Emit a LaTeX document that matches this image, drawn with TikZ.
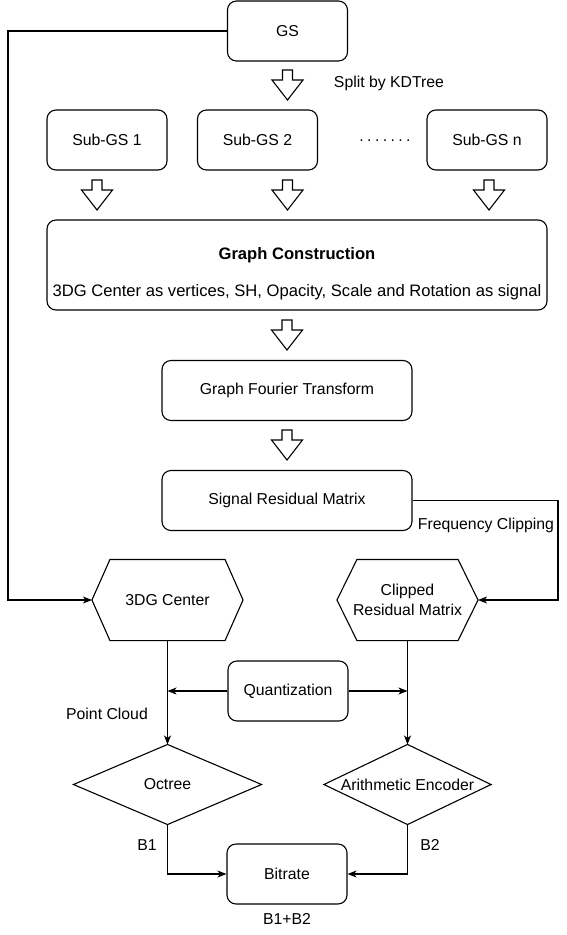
\documentclass[tikz,border=0pt]{standalone}
\usepackage{fontspec}
\setmainfont{Liberation Sans}
\usetikzlibrary{arrows.meta,calc}
\tikzset{
  box/.style={draw, rounded corners=9pt, minimum width=120pt, minimum height=60pt, inner sep=0pt},
  plain/.style={inner sep=0pt},
  gctext/.style={inner sep=0pt, font=\fontsize{16.6}{20}\selectfont},
  hexbox/.style={minimum height=80pt, inner sep=0pt},
  dia/.style={minimum height=79pt, inner sep=0pt},
  arr/.style={-{Stealth[length=9pt,width=7pt,inset=2.5pt]}},
  hollow/.pic={\draw[fill=white,line join=miter] (-5,0) -- (5,0) -- (5,10) -- (15.5,10) -- (0,30) -- (-15.5,10) -- (-5,10) -- cycle;},
}
\begin{document}
\begin{tikzpicture}[x=1pt,y=-1pt, line width=1.1pt, font=\fontsize{15.8}{19}\selectfont]
\useasboundingbox (0,0) rectangle (566,935);
% boxes
\node[box] (gs) at (287.5,31) {GS};
\node[plain] (split) at (389,83) {Split by KDTree};
\node[box] (s1) at (107,140) {Sub-GS 1};
\node[box] (s2) at (257.5,140) {Sub-GS 2};
\node[plain] (dots) at (385,141) {.\hspace{3.4pt}.\hspace{3.4pt}.\hspace{3.4pt}.\hspace{3.4pt}.\hspace{3.4pt}.\hspace{3.4pt}.};
\node[box] (sn) at (487,140) {Sub-GS n};
\node[box, minimum width=500pt, minimum height=90pt] (gc) at (297,265) {};
\node[gctext] (gct) at (297,255) {\bfseries Graph Construction};
\node[gctext] (gcs) at (297,292) {3DG Center as vertices, SH, Opacity, Scale and Rotation as signal};
\node[box, minimum width=250pt] (gft) at (287,390.5) {Graph Fourier Transform};
\node[box, minimum width=250pt] (srm) at (287,500.5) {Signal Residual Matrix};
\node[plain] (fc) at (486,525) {Frequency Clipping};
\node[hexbox, minimum width=150pt] (ha) at (167.5,600) {3DG Center};
\node[hexbox, minimum width=140pt, align=center, font=\fontsize{15.8}{20.5}\selectfont] (hb) at (407.5,600) {Clipped\\Residual Matrix};
\node[box] (q) at (288,691) {Quantization};
\node[plain] (pc) at (107,714) {Point Cloud};
\node[dia, minimum width=187pt] (oct) at (167.5,784.5) {Octree};
\node[dia, minimum width=166pt] (ae) at (407.5,784.5) {Arithmetic Encoder};
\node[plain] (b1) at (147,845) {B1};
\node[plain] (b2) at (430,845) {B2};
\node[box] (br) at (287,874) {Bitrate};
\node[plain] (b12) at (287,919) {B1+B2};
% hexagons
\draw ([xshift=18pt]ha.north west) -- ([xshift=-18pt]ha.north east) -- (ha.east) -- ([xshift=-18pt]ha.south east) -- ([xshift=18pt]ha.south west) -- (ha.west) -- cycle;
\draw ([xshift=20pt]hb.north west) -- ([xshift=-20pt]hb.north east) -- (hb.east) -- ([xshift=-20pt]hb.south east) -- ([xshift=20pt]hb.south west) -- (hb.west) -- cycle;
% diamonds
\draw (oct.north) -- (oct.east) -- (oct.south) -- (oct.west) -- cycle;
\draw (ae.north) -- (ae.east) -- (ae.south) -- (ae.west) -- cycle;
% hollow arrows
\pic at (287.5,70) {hollow};
\pic at (97,180) {hollow};
\pic at (287.5,180) {hollow};
\pic at (489,180) {hollow};
\pic at (287,320) {hollow};
\pic at (287,430) {hollow};
% connectors
\coordinate (lx) at (8,0);
\coordinate (rx) at (558,0);
\draw[arr] (gs.west) -- (gs.west -| lx) |- (ha.west);
\draw[arr] (srm.east) -- (srm.east -| rx) |- (hb.east);
\draw[arr] (ha.south) -- (oct.north);
\draw[arr] (hb.south) -- (ae.north);
\draw[arr] (q.west) -- (q.west -| ha.south);
\draw[arr] (q.east) -- (q.east -| hb.south);
\draw[arr] (oct.south) |- (br.west);
\draw[arr] (ae.south) |- (br.east);
\end{tikzpicture}
\end{document}
